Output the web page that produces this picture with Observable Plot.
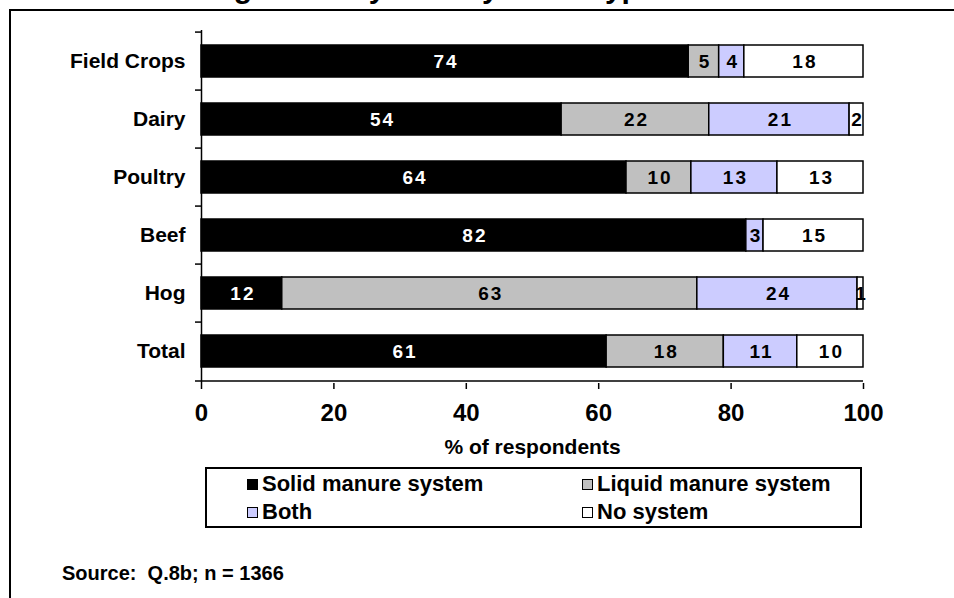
<!DOCTYPE html>
<html>
<head>
<meta charset="utf-8">
<script src="https://cdn.jsdelivr.net/npm/d3@7"></script>
<script src="https://cdn.jsdelivr.net/npm/@observablehq/plot@0.6"></script>
<style>
html, body { margin: 0; padding: 0; background: #fff; overflow: hidden; width: 954px; height: 598px; }
body { position: relative; font-family: Arial, "Liberation Sans", Helvetica, sans-serif; font-weight: bold; color: #000; }
#frame { position: absolute; left: 9px; top: 9px; width: 1000px; height: 700px; border: 2px solid #000; }
#title { position: absolute; top: -27px; left: 42px; font-size: 30px; white-space: nowrap; line-height: 30px; }
#chart { position: absolute; left: 0; top: 0; }
#legend { position: absolute; left: 205px; top: 467px; width: 653px; height: 57px; border: 2px solid #000; font-size: 22px; }
.item { position: absolute; display: flex; align-items: center; height: 26px; white-space: nowrap; }
.sw { display: inline-block; width: 9px; height: 9px; border: 1px solid #000; margin-right: 4px; }
#source { position: absolute; left: 62px; top: 562px; font-size: 20px; white-space: pre; }
</style>
</head>
<body>
<div id="frame"></div>
<div id="title"></div>
<div id="chart"></div>
<div id="legend"></div>
<div id="source"></div>
<script>
const titleText = "Manure Management System by Farm Type";
const farmTypes = ["Field Crops", "Dairy", "Poultry", "Beef", "Hog", "Total"];
const systems = ["Solid manure system", "Liquid manure system", "Both", "No system"];
const solid  = [73.6, 54.4, 64.2, 82.3, 12.2, 61.2];
const liquid = [4.6, 22.3, 9.8, 0, 62.7, 17.7];
const both   = [3.8, 21.2, 13.0, 2.6, 24.2, 11.1];
const none   = [18.0, 2.1, 13.0, 15.1, 0.9, 10.0];
const xTicks = [0, 20, 40, 60, 80, 100];
const systemColors = ["#000000", "#c0c0c0", "#ccccff", "#ffffff"];
const xLabel = "% of respondents";
const sourceText = "Source:  Q.8b; n = 1366";

const series = [solid, liquid, both, none];
const rows = farmTypes.flatMap((farm, i) =>
  series.map((arr, j) => ({farm, system: systems[j], value: arr[i]})));

const W = 954, H = 470;
const mTop = 30, mBottom = 87, mLeft = 201, mRight = 91;
const step = (H - mTop - mBottom) / farmTypes.length;

const chart = Plot.plot({
  width: W, height: H,
  marginTop: mTop, marginBottom: mBottom, marginLeft: mLeft, marginRight: mRight,
  style: {background: "transparent", fontFamily: "Arial, 'Liberation Sans', sans-serif", fontWeight: "bold", color: "#000", overflow: "visible"},
  x: {domain: [0, 100], ticks: xTicks},
  y: {domain: farmTypes, paddingInner: 0.44, paddingOuter: 0.22},
  color: {domain: systems, range: systemColors},
  marks: [
    Plot.barX(rows, Plot.stackX({x: "value", y: "farm", fill: "system", stroke: "#000", strokeWidth: 1.5})),
    Plot.text(rows.filter(d => d.value > 0), Plot.stackX({
      x: "value", y: "farm", z: "system",
      text: d => String(Math.round(d.value)),
      fill: d => d.system === systems[0] ? "#fff" : "#000",
      fontSize: 19, fontWeight: "bold", dx: 1
    })),
    Plot.ruleX([0], {stroke: "#000", strokeWidth: 1.5}),
    Plot.ruleY(farmTypes, {y: d => d, x1: 0, x2: 0, insetLeft: -6, dy: -step / 2, stroke: "#000", strokeWidth: 1.5}),
    Plot.ruleY([farmTypes[farmTypes.length - 1]], {y: d => d, insetLeft: -6, dy: step / 2, stroke: "#000", strokeWidth: 1.5}),
    Plot.axisY({tickSize: 0, tickPadding: 16, fontSize: 21, fontWeight: "bold", label: null}),
    Plot.axisX({ticks: xTicks, tickSize: 6, tickPadding: 14, fontSize: 24, fontWeight: "bold", label: null, stroke: "#000", strokeWidth: 1.5}),
    Plot.text([xLabel], {frameAnchor: "bottom", dy: 70, fontSize: 21, fontWeight: "bold"})
  ]
});
// letter spacing only on the in-bar value labels (first text mark)
d3.select(chart).selectAll('g[aria-label="text"]').filter((d, i) => i === 0)
  .selectAll("text").style("letter-spacing", "2px");
document.getElementById("chart").appendChild(chart);

document.getElementById("title").textContent = titleText;
document.getElementById("source").textContent = sourceText;

const legend = document.getElementById("legend");
const pos = [[40, 2], [375, 2], [40, 30], [375, 30]];
systems.forEach((s, i) => {
  const item = document.createElement("div");
  item.className = "item";
  item.style.left = pos[i][0] + "px";
  item.style.top = pos[i][1] + "px";
  const sw = document.createElement("span");
  sw.className = "sw";
  sw.style.background = systemColors[i];
  item.appendChild(sw);
  item.appendChild(document.createTextNode(s));
  legend.appendChild(item);
});
</script>
</body>
</html>
